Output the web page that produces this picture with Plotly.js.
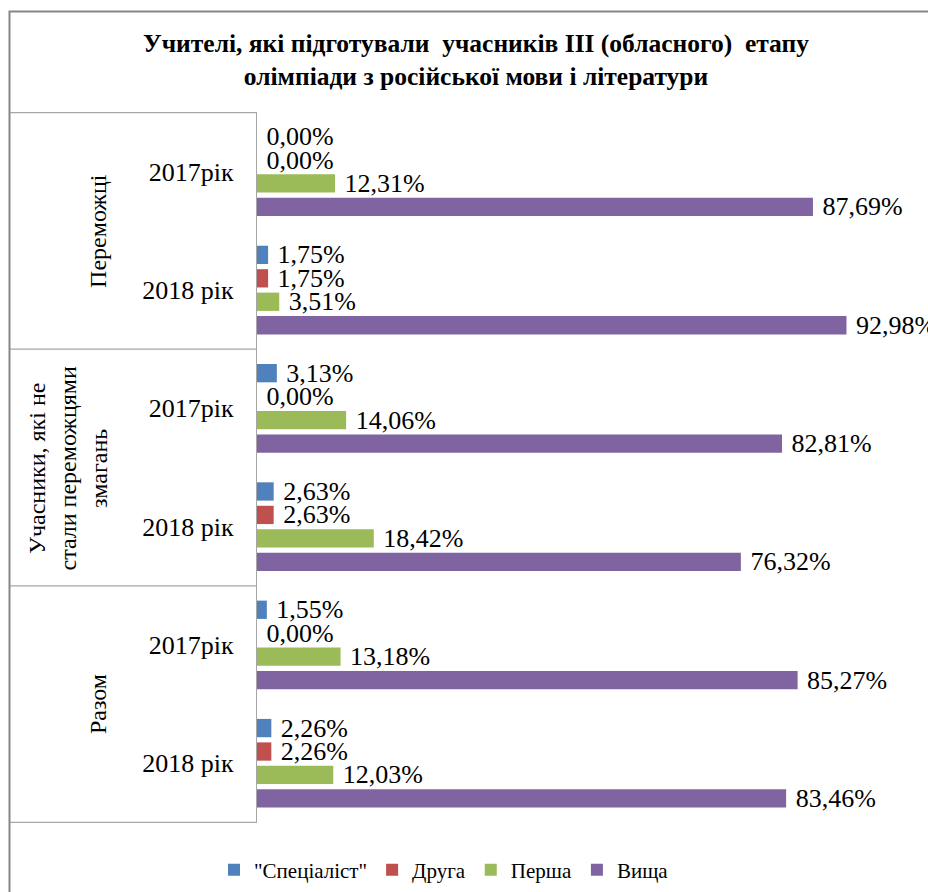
<!DOCTYPE html>
<html>
<head>
<meta charset="utf-8">
<script src="https://cdn.plot.ly/plotly-3.0.1.min.js"></script>
<style>html,body{margin:0;padding:0;background:#fff;}#chart{width:928px;height:892px;}</style>
</head>
<body>
<div id="chart"></div>
<script>
// ---- data ----
var groupLabels = ['Переможці', 'Учасники, які не<br>стали переможцями<br>змагань', 'Разом'];
var yearLabels = ['2017рік', '2018 рік', '2017рік', '2018 рік', '2017рік', '2018 рік'];
var seriesNames = ['"Спеціаліст"', 'Друга', 'Перша', 'Вища'];
var specialist = [0.00, 1.75, 3.13, 2.63, 1.55, 2.26];
var druha = [0.00, 1.75, 0.00, 2.63, 0.00, 2.26];
var persha = [12.31, 3.51, 14.06, 18.42, 13.18, 12.03];
var vyshcha = [87.69, 92.98, 82.81, 76.32, 85.27, 83.46];
var titleText = 'Учителі, які підготували  учасників ІІІ (обласного)  етапу<br>олімпіади з російської мови і літератури';

// ---- styling ----
var colors = ['#4F81BD', '#C0504D', '#9BBB59', '#8064A2'];
var FONT = 'Liberation Serif, Times New Roman, serif';
var W = 928, H = 892, L = 257, R = 37, T = 112, B = 69;
var pw = W - L - R, ph = H - T - B;
function px2x(p) { return (p - L) / pw; }
function px2y(p) { return (H - B - p) / ph; }

var cats = yearLabels.map(function (y, i) { return 'c' + i; });
var values = [specialist, druha, persha, vyshcha];

var traces = values.map(function (v, k) {
  return {
    type: 'bar', orientation: 'h', name: seriesNames[k],
    x: v, y: cats,
    marker: {color: colors[k]},
    texttemplate: '\u00a0%{x:.2f}%', textposition: 'outside',
    constraintext: 'none', cliponaxis: false,
    textfont: {family: FONT, size: 26, color: '#000'},
    hoverinfo: 'x'
  };
});

var shapes = [];
// outer frame
shapes.push({type: 'rect', xref: 'paper', yref: 'paper', x0: px2x(9.5), x1: 2, y0: -1, y1: px2y(11.5),
  line: {color: '#868686', width: 2}, fillcolor: 'rgba(0,0,0,0)', layer: 'below'});
// table lines
[-0.5, 1.5, 3.5, 5.5].forEach(function (yy) {
  shapes.push({type: 'line', xref: 'paper', yref: 'y', x0: px2x(10), x1: 0, y0: yy, y1: yy,
    line: {color: '#a6a6a6', width: 1.2}});
});

var groupX = [98, 67, 98];
var annotations = groupLabels.map(function (g, i) {
  return {xref: 'paper', yref: 'y', x: px2x(groupX[i]), y: 2 * i + 0.5, text: g, textangle: -90,
    showarrow: false, xanchor: 'center', yanchor: 'middle', align: 'center',
    font: {family: FONT, size: 24, color: '#000'}};
});

var layout = {
  width: W, height: H,
  margin: {l: L, r: R, t: T, b: B, pad: 0, autoexpand: false},
  paper_bgcolor: '#fff', plot_bgcolor: '#fff',
  separators: ', ',
  font: {family: FONT, color: '#000'},
  title: {text: '<b>' + titleText + '</b>', xref: 'container', x: 476 / W, xanchor: 'center',
    yref: 'container', y: 1 - 52 / H, yanchor: 'middle',
    font: {family: FONT, size: 25.5, color: '#000'}},
  barmode: 'group', bargap: 0.207, bargroupgap: 0.22,
  xaxis: {range: [0, 100], showgrid: false, zeroline: false, showticklabels: false, showline: false, fixedrange: true},
  yaxis: {type: 'category', categoryorder: 'array', categoryarray: cats, autorange: 'reversed',
    tickvals: cats, ticktext: yearLabels, ticks: '', ticklabelstandoff: 17,
    tickfont: {family: FONT, size: 26, color: '#000'},
    showline: true, linecolor: '#a6a6a6', linewidth: 1.2, showgrid: false, zeroline: false, fixedrange: true},
  showlegend: true,
  legend: {orientation: 'h', x: px2x(214), xanchor: 'left', y: px2y(870), yanchor: 'middle',
    font: {family: FONT, size: 21, color: '#000'}, bgcolor: 'rgba(0,0,0,0)', traceorder: 'normal'},
  shapes: shapes,
  annotations: annotations
};

Plotly.newPlot('chart', traces, layout, {displayModeBar: false, staticPlot: true});
</script>
</body>
</html>
